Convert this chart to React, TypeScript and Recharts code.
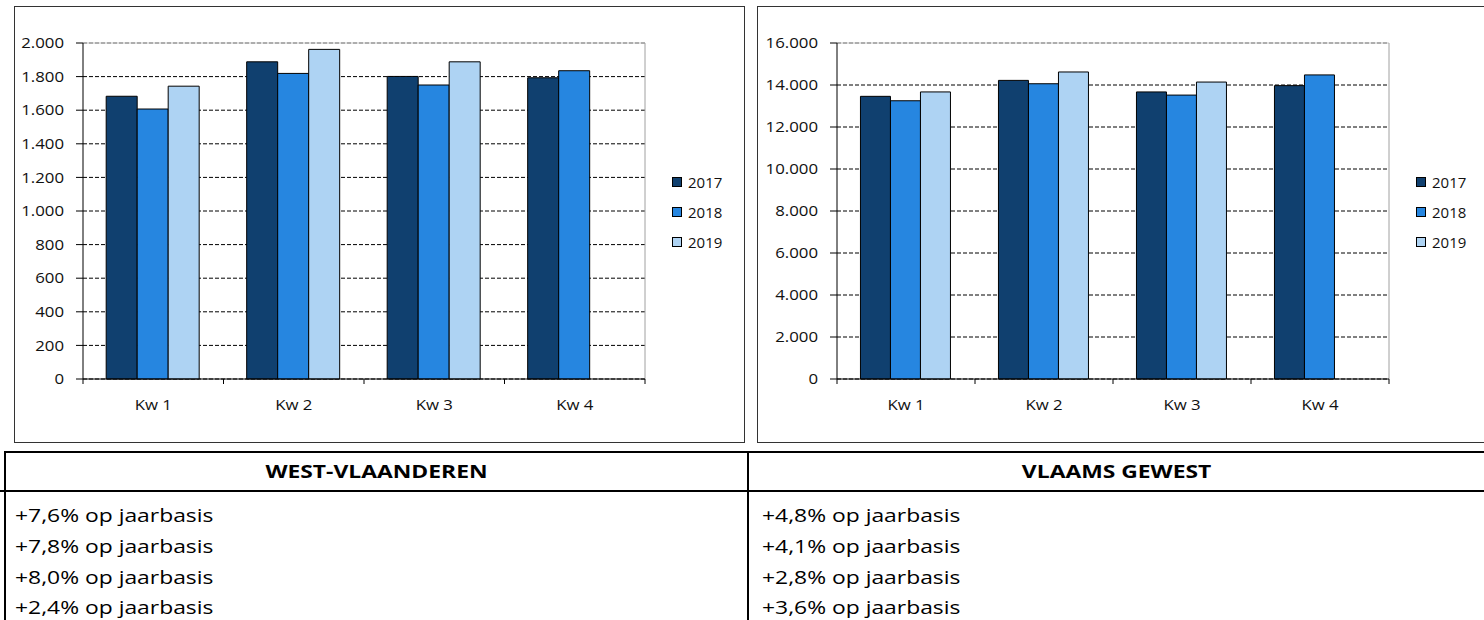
import { BarChart, Bar, XAxis, YAxis, CartesianGrid } from "recharts";
import type { CSSProperties } from "react";

const QUARTERS = ["Kw 1", "Kw 2", "Kw 3", "Kw 4"];
const YEARS = ["2017", "2018", "2019"];
const COLORS = ["#10406f", "#2686e0", "#aed3f3"];

// West-Vlaanderen
const WVL_2017 = [1683, 1888, 1801, 1793];
const WVL_2018 = [1607, 1819, 1750, 1835];
const WVL_2019 = [1743, 1962, 1888, null];
const WVL_TICKS = [0, 200, 400, 600, 800, 1000, 1200, 1400, 1600, 1800, 2000];

// Vlaams Gewest
const VG_2017 = [13460, 14220, 13670, 13970];
const VG_2018 = [13250, 14060, 13520, 14480];
const VG_2019 = [13670, 14620, 14140, null];
const VG_TICKS = [0, 2000, 4000, 6000, 8000, 10000, 12000, 14000, 16000];

const HEADERS = ["WEST-VLAANDEREN", "VLAAMS GEWEST"];
const WVL_NOTES = ["+7,6% op jaarbasis", "+7,8% op jaarbasis", "+8,0% op jaarbasis", "+2,4% op jaarbasis"];
const VG_NOTES = ["+4,8% op jaarbasis", "+4,1% op jaarbasis", "+2,8% op jaarbasis", "+3,6% op jaarbasis"];

const FONT = "'Open Sans', sans-serif";
const PLOT_TOP = 36;

const fmt = (v: number) => String(v).replace(/\B(?=(\d{3})+(?!\d))/g, ".");

function buildRows(a: (number | null)[], b: (number | null)[], c: (number | null)[]) {
  return QUARTERS.map((q, i) => ({ q, y2017: a[i], y2018: b[i], y2019: c[i] }));
}

function YTick({ x, y, payload }: any) {
  return (
    <text
      x={0}
      y={0}
      transform={`translate(${x},${y}) scale(1.12,1)`}
      dy="0.35em"
      textAnchor="end"
      fontFamily={FONT}
      fontSize={15}
      fill="#111"
    >
      {fmt(payload.value)}
    </text>
  );
}

function XTick({ x, y, payload, index, band }: any) {
  const last = index === QUARTERS.length - 1;
  return (
    <g>
      <line x1={x - band / 2} x2={x - band / 2} y1={y} y2={y + 5} stroke="#000" />
      {last && <line x1={x + band / 2} x2={x + band / 2} y1={y} y2={y + 5} stroke="#000" />}
      <text
        x={0}
        y={0}
        transform={`translate(${x},${y + 26}) scale(1.12,1)`}
        dy="0.35em"
        textAnchor="middle"
        fontFamily={FONT}
        fontSize={15}
        fill="#111"
      >
        {payload.value}
      </text>
    </g>
  );
}

const hLine = (p: any) => {
  if (Math.abs(p.y1 - PLOT_TOP) < 1) {
    return (
      <g key={`h-${p.index}`}>
        <line x1={p.x1} x2={p.x2} y1={p.y1} y2={p.y2} stroke="#c4c4c4" />
        <line x1={p.x1} x2={p.x2} y1={p.y1} y2={p.y2} stroke="#7a7a7a" strokeDasharray="4 2" />
      </g>
    );
  }
  return (
    <line key={`h-${p.index}`} x1={p.x1} x2={p.x2} y1={p.y1} y2={p.y2} stroke="#000" strokeDasharray="4 2" />
  );
};

const vLine = (p: any) => (
  <line key={`v-${p.index}`} x1={p.x1} x2={p.x2} y1={p.y1} y2={p.y2} stroke="#a0a0a0" />
);

interface PanelProps {
  left: number;
  width: number;
  chartWidth: number;
  yAxisWidth: number;
  plotRight: number;
  max: number;
  ticks: number[];
  rows: any[];
  gap: string;
  openRight?: boolean;
}

function Panel({ left, width, chartWidth, yAxisWidth, plotRight, max, ticks, rows, gap, openRight }: PanelProps) {
  const ch = 435;
  const band = (plotRight - yAxisWidth) / QUARTERS.length;
  return (
    <div style={{ ...panelStyle, left, width, borderRight: openRight ? "none" : panelStyle.border }}>
      <BarChart
        width={chartWidth}
        height={ch}
        data={rows}
        margin={{ top: PLOT_TOP, right: chartWidth - plotRight, bottom: 33, left: 0 }}
        barCategoryGap={gap}
        barGap={0}
      >
        <CartesianGrid horizontal={hLine} vertical={vLine} verticalPoints={[plotRight]} />
        <XAxis
          dataKey="q"
          height={30}
          interval={0}
          tickSize={0}
          tickMargin={0}
          tickLine={false}
          axisLine={{ stroke: "#000" }}
          tick={(p: any) => <XTick {...p} band={band} />}
        />
        <YAxis
          width={yAxisWidth}
          domain={[0, max]}
          ticks={ticks}
          interval={0}
          tickSize={7}
          tickMargin={12}
          axisLine={{ stroke: "#000" }}
          tickLine={{ stroke: "#000" }}
          tick={<YTick />}
        />
        {YEARS.map((yr, i) => (
          <Bar
            key={yr}
            dataKey={`y${yr}`}
            fill={COLORS[i]}
            stroke="#000"
            strokeWidth={1}
            isAnimationActive={false}
          />
        ))}
      </BarChart>
    </div>
  );
}

function Legend({ left }: { left: number }) {
  return (
    <div style={{ position: "absolute", left, top: 170, fontFamily: FONT, fontSize: 15, color: "#111" }}>
      {YEARS.map((yr, i) => (
        <div key={yr} style={{ display: "flex", alignItems: "center", height: 30, marginTop: i === 0 ? -3 : 0 }}>
          <span
            style={{
              width: 10,
              height: 10,
              boxSizing: "border-box",
              border: "1px solid #000",
              background: COLORS[i],
              marginRight: 6,
            }}
          />
          <span>{yr}</span>
        </div>
      ))}
    </div>
  );
}

const ROW_CENTERS = [515, 546, 577, 607];

export default function App() {
  return (
    <div style={page}>
      <Panel
        left={14}
        width={731}
        chartWidth={729}
        yAxisWidth={68}
        plotRight={630}
        max={2000}
        ticks={WVL_TICKS}
        rows={buildRows(WVL_2017, WVL_2018, WVL_2019)}
        gap="16.5%"
      />
      <Legend left={672} />
      <Panel
        left={757}
        width={727}
        chartWidth={726}
        yAxisWidth={79}
        plotRight={631}
        max={16000}
        ticks={VG_TICKS}
        rows={buildRows(VG_2017, VG_2018, VG_2019)}
        gap="17%"
        openRight
      />
      <Legend left={1416} />

      {/* table below the charts */}
      <div style={{ ...rule, left: 4, top: 451, width: 1490, height: 2 }} />
      <div style={{ ...rule, left: 0, top: 490, width: 1490, height: 2 }} />
      <div style={{ ...rule, left: 4, top: 451, width: 2, height: 180 }} />
      <div style={{ ...rule, left: 747, top: 451, width: 2, height: 180 }} />
      <div style={{ ...headCell, left: 6, width: 741 }}>
        <span style={{ display: "inline-block", transform: "scaleX(1.27)" }}>{HEADERS[0]}</span>
      </div>
      <div style={{ ...headCell, left: 749, width: 735 }}>
        <span style={{ display: "inline-block", transform: "scaleX(1.27)" }}>{HEADERS[1]}</span>
      </div>
      {WVL_NOTES.map((t, i) => (
        <div key={`l${i}`} style={{ ...noteCell, left: 15, top: ROW_CENTERS[i] - 12 }}>
          {t}
        </div>
      ))}
      {VG_NOTES.map((t, i) => (
        <div key={`r${i}`} style={{ ...noteCell, left: 762, top: ROW_CENTERS[i] - 12 }}>
          {t}
        </div>
      ))}
    </div>
  );
}

const page: CSSProperties = {
  position: "absolute",
  left: 0,
  top: 0,
  width: 1484,
  height: 620,
  overflow: "hidden",
  background: "#fff",
  fontFamily: FONT,
};

const panelStyle: CSSProperties = {
  position: "absolute",
  top: 6,
  height: 437,
  boxSizing: "border-box",
  border: "1px solid #333",
  background: "#fff",
};

const rule: CSSProperties = {
  position: "absolute",
  background: "#000",
};

const headCell: CSSProperties = {
  position: "absolute",
  top: 453,
  height: 37,
  lineHeight: "37px",
  textAlign: "center",
  fontWeight: 700,
  fontSize: 18,
  color: "#000",
};

const noteCell: CSSProperties = {
  position: "absolute",
  height: 24,
  lineHeight: "24px",
  fontSize: 18,
  color: "#000",
  whiteSpace: "nowrap",
  transform: "scaleX(1.27)",
  transformOrigin: "left center",
};
